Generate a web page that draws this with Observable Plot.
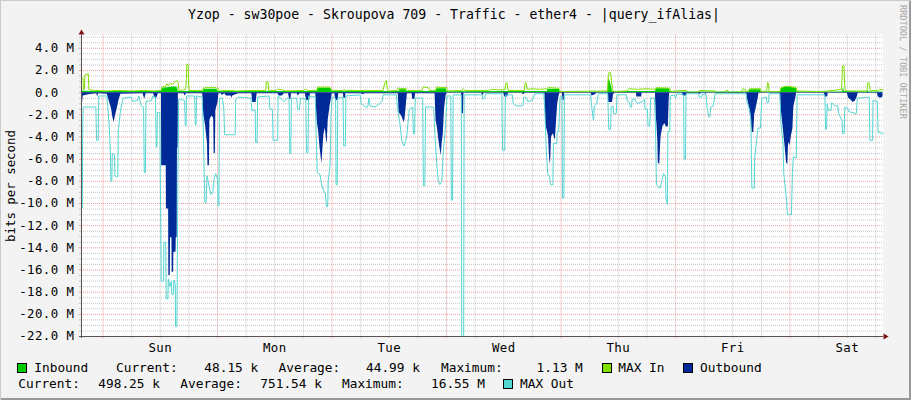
<!DOCTYPE html>
<html><head><meta charset="utf-8">
<script src="https://cdn.jsdelivr.net/npm/d3@7"></script>
<script src="https://cdn.jsdelivr.net/npm/@observablehq/plot@0.6"></script>
<style>
html,body{margin:0;padding:0;background:#f3f3f3;}
#wrap{position:relative;width:911px;height:400px;background:#f3f3f3;overflow:hidden;
  box-shadow: inset 1px 1px 0 #cbcbcb, inset -2px -2px 0 #9a9a9a;
  font-family:"DejaVu Sans Mono",monospace;}
#chart{position:absolute;left:0;top:0;}
#chart svg text{letter-spacing:0.45px;}
.lt{position:absolute;white-space:pre;font-family:"DejaVu Sans Mono",monospace;color:#000;}
.box{position:absolute;width:8px;height:8px;border:1px solid #000;}
.rot{position:absolute;width:0;height:0;transform-origin:0 0;}
.rot > div{position:absolute;white-space:pre;font-family:"DejaVu Sans Mono",monospace;}
</style></head>
<body>
<div id="wrap"><div id="chart"></div></div>
<script>
// ---- data (time in hours from Sunday 00:00, values in Mbit/s) ----
const dayNames = ["Sun","Mon","Tue","Wed","Thu","Fri","Sat"];
const dayCenters = [12,36,60,84,108,132,156];
const title = "Yzop - sw30poe - Skroupova 709 - Traffic - ether4 - |query_ifAlias|";
const yAxisTitle = "bits per second";
const watermark = "RRDTOOL / TOBI OETIKER";
const legendSeries = ["Inbound","MAX In","Outbound","MAX Out"];
const legendColors = ["#00cc00","#80e000","#002a97","#55d6d3"];
const statNames = ["Current:","Average:","Maximum:"];
const inboundStats = ["48.15 k","44.99 k","1.13 M"];
const outboundStats = ["498.25 k","751.54 k","16.55 M"];

const inbound = [
[-4.51,0.15],[-3.0,0.1],[12.2,0.1],[12.4,0.4],[13.5,0.45],[14.5,0.5],[15.5,0.5],[15.8,0.1],[21.0,0.1],[21.2,0.3],[23.8,0.3],[24.2,0.1],
[44.9,0.1],[45.1,0.4],[47.8,0.4],[48.0,0.1],[62.0,0.1],[62.2,0.25],[63.5,0.25],[63.7,0.1],[69.8,0.1],[70.0,0.35],[71.9,0.35],[72.1,0.08],
[93.1,0.1],[93.3,0.3],[95.6,0.3],[95.8,0.05],[105.8,0.05],[105.9,0.8],[106.1,1.3],[106.3,1.0],[106.5,0.7],[106.8,0.1],
[115.8,0.1],[116.0,0.35],[118.7,0.35],[118.9,0.05],[135.4,0.05],[135.6,0.25],[137.8,0.25],[138.0,0.05],
[142.0,0.05],[142.2,0.4],[143.3,0.5],[144.5,0.45],[145.3,0.4],[145.5,0.05],[155.0,0.05],[155.2,0.45],[155.4,0.1],
[160.2,0.05],[160.4,0.2],[160.6,0.05],[163.49,0.05]
];

const maxIn = [
[-4.51,1.4],[-4.2,1.3],[-4.1,0.3],[-3.9,0.3],[-3.8,1.6],[-3.1,1.7],[-2.95,0.25],[-1.5,0.2],[0.5,0.15],[3.0,0.2],[6.0,0.15],[8.5,0.2],[10.5,0.15],
[12.2,0.2],[12.5,0.55],[13.0,0.5],[13.4,0.8],[13.7,0.6],[14.1,0.85],[14.6,0.75],[15.3,1.1],[15.7,1.0],[15.9,0.2],
[17.2,0.25],[17.4,0.6],[17.6,2.6],[17.85,2.5],[18.0,0.2],[20.8,0.2],[21.0,0.4],[21.5,0.45],[23.5,0.45],[24.2,0.35],[24.4,0.15],
[26.0,0.2],[28.0,0.15],[31.0,0.2],[34.1,0.2],[34.25,1.0],[34.6,0.95],[34.7,0.2],[36.3,0.2],[36.6,0.3],[37.4,0.3],[38.2,0.15],
[42.1,0.2],[42.4,0.3],[43.1,0.2],[44.8,0.2],[45.0,0.5],[47.5,0.5],[48.0,0.2],[50.3,0.2],[50.5,0.3],[50.8,0.2],
[58.7,0.2],[58.9,0.6],[59.2,1.0],[59.4,1.1],[59.6,0.3],[59.8,0.15],[61.6,0.2],[61.8,0.4],[63.6,0.35],[63.8,0.2],
[66.9,0.2],[67.1,0.5],[68.2,0.45],[68.4,0.2],[69.7,0.2],[69.9,0.5],[72.0,0.45],[72.2,0.15],[75.3,0.2],[75.5,0.35],[76.0,0.2],
[80.8,0.2],[81.5,0.3],[83.0,0.25],[84.2,0.25],[84.5,0.9],[84.7,0.85],[84.9,0.2],[88.3,0.2],[88.5,0.9],[88.7,0.85],[88.9,0.3],
[90.0,0.35],[91.5,0.3],[93.0,0.35],[93.3,0.45],[95.5,0.4],[95.9,0.1],[105.8,0.15],[105.9,1.5],[106.1,1.85],[106.4,1.8],[106.6,1.0],[106.8,0.3],[107.0,0.1],
[109.8,0.15],[110.2,0.35],[112.0,0.3],[114.0,0.35],[115.7,0.3],[116.0,0.45],[118.8,0.4],[119.0,0.1],[121.3,0.2],[122.3,0.2],[122.5,0.0],
[124.8,0.05],[125.0,0.2],[128.3,0.15],[128.5,0.0],[130.4,0.05],[130.6,0.2],[131.0,0.2],[131.2,0.0],[133.9,0.05],[134.1,0.35],[134.6,0.3],[134.8,0.05],
[135.3,0.2],[135.5,0.35],[137.8,0.35],[138.0,0.1],[139.1,0.15],[139.3,0.9],[139.5,0.85],[139.6,0.1],[141.9,0.1],[142.1,0.45],[143.3,0.6],[144.0,0.55],[145.3,0.45],[145.5,0.15],
[150.0,0.1],[152.0,0.15],[154.8,0.3],[155.0,2.4],[155.3,2.45],[155.5,0.4],[155.7,0.15],[160.1,0.15],[160.3,0.9],[160.6,0.85],[160.8,0.2],[162.5,0.2],[162.7,0.3],[163.49,0.25]
];

const outbound = [
[-4.51,-1.0],[-4.35,-1.2],[-4.15,-0.3],[-3.0,-0.2],[-1.3,-0.1],[-1.15,-0.4],[-0.9,-0.1],[0.9,-0.15],
[1.0,-0.3],[1.4,-0.9],[1.8,-1.5],[2.1,-2.3],[2.35,-2.7],[2.6,-2.1],[3.0,-1.4],[3.4,-0.6],[3.75,-0.15],
[8.4,-0.1],[8.75,-0.6],[9.05,-0.1],[10.6,-0.1],[11.1,-0.7],[11.6,-0.1],
[12.25,-0.1],[12.3,-6.6],[13.25,-6.6],[13.3,-10.5],[13.75,-10.5],[13.8,-16.5],[14.1,-16.5],[14.15,-13.1],[14.45,-13.1],[14.5,-16.2],[14.8,-16.2],[14.85,-14.4],[15.3,-14.4],[15.35,-13.1],[15.55,-13.1],[15.6,-5.0],[15.75,-5.0],[15.8,-0.1],
[17.0,-0.1],[17.2,-0.3],[17.5,-0.1],[20.9,-0.1],
[21.1,-1.9],[21.5,-3.0],[21.9,-4.6],[22.0,-6.6],[22.3,-6.6],[22.4,-2.5],[22.8,-2.1],[23.2,-2.3],[23.3,-5.5],[23.55,-5.5],[23.65,-1.6],[24.1,-0.9],[24.3,-0.1],
[24.8,-0.1],[25.0,-0.25],[25.5,-0.1],[25.9,-0.3],[26.9,-0.3],[27.0,-0.5],[27.2,-0.3],[28.4,-0.1],[31.2,-0.1],[31.4,-0.9],[32.1,-0.9],[32.3,-0.1],[36.7,-0.1],[36.9,-0.3],[37.6,-0.3],[38.0,-0.1],
[38.9,-0.1],[39.1,-0.6],[39.4,-0.6],[39.5,-0.1],[40.7,-0.1],[40.9,-0.3],[41.3,-0.1],[42.4,-0.1],[42.7,-0.7],[43.3,-0.7],[43.5,-0.1],[44.6,-0.1],
[44.7,-1.0],[44.9,-2.6],[45.2,-3.5],[45.5,-5.0],[45.8,-6.1],[45.9,-6.4],[46.1,-5.0],[46.3,-3.8],[46.6,-3.2],[46.9,-4.5],[47.0,-4.5],[47.2,-2.5],[47.6,-1.2],[47.9,-0.5],[48.05,-0.1],
[48.6,-0.1],[48.75,-0.7],[49.3,-0.7],[49.4,-0.1],[50.4,-0.1],[50.5,-0.5],[50.85,-0.5],[50.9,-0.1],[54.2,-0.1],[54.4,-0.2],[55.0,-0.1],[61.9,-0.1],
[62.05,-1.8],[62.4,-2.0],[62.7,-2.2],[63.1,-2.7],[63.3,-2.4],[63.6,-1.0],[63.8,-0.1],[64.8,-0.1],[64.9,-0.6],[65.4,-0.6],[65.5,-0.1],[69.6,-0.1],
[69.8,-2.5],[70.1,-3.2],[70.4,-4.3],[70.7,-5.2],[70.9,-5.7],[71.1,-4.5],[71.3,-3.9],[71.6,-1.4],[71.9,-0.3],[72.1,-0.05],
[75.15,-0.05],[75.25,-1.9],[75.55,-1.9],[75.65,-0.05],[79.4,-0.05],[79.6,-0.3],[79.9,-0.05],[84.0,-0.05],[84.2,-0.4],[84.8,-0.4],[85.0,-0.05],[87.9,-0.05],[88.1,-0.2],[88.6,-0.05],[92.6,-0.05],
[92.8,-2.8],[93.1,-3.4],[93.4,-4.0],[93.55,-5.5],[93.7,-6.45],[93.85,-6.0],[94.0,-4.0],[94.4,-3.7],[94.8,-4.3],[95.0,-3.0],[95.3,-1.0],[95.6,-0.3],[95.8,-0.05],
[96.3,-0.05],[96.4,-0.7],[96.65,-0.7],[96.75,-0.05],[102.3,-0.05],[102.5,-0.3],[103.2,-0.2],[103.5,-0.05],[105.9,-0.05],[106.0,-0.9],[106.8,-0.9],[107.0,-0.2],[107.3,-0.05],[111.8,-0.05],[111.9,-0.4],[112.9,-0.4],[113.0,-0.05],[115.8,-0.05],
[115.95,-2.0],[116.1,-2.8],[116.3,-4.5],[116.4,-6.4],[116.7,-6.45],[116.9,-4.5],[117.0,-3.9],[117.4,-3.0],[117.8,-2.8],[118.1,-3.1],[118.5,-3.1],[118.65,-1.0],[118.75,-0.05],
[121.5,-0.05],[121.6,-0.3],[122.3,-0.3],[122.4,-0.05],[124.9,-0.05],[125.0,-0.2],[125.5,-0.05],[126.3,-0.05],[126.4,-0.2],[126.6,-0.05],[134.9,-0.05],
[135.2,-0.8],[135.5,-1.3],[135.8,-2.2],[136.1,-3.6],[136.4,-3.6],[136.6,-2.0],[137.0,-1.2],[137.3,-0.6],[137.5,-0.05],[141.9,-0.05],
[142.1,-1.3],[142.4,-2.5],[142.7,-3.7],[143.0,-5.0],[143.3,-6.4],[143.55,-6.45],[143.7,-4.5],[144.0,-4.8],[144.3,-3.9],[144.6,-3.3],[144.8,-1.3],[145.1,-0.7],[145.4,-0.05],
[151.2,-0.05],[151.4,-0.4],[151.9,-0.4],[152.0,-0.05],[156.0,-0.05],[156.3,-0.5],[156.9,-0.7],[157.2,-0.9],[157.6,-0.8],[158.0,-0.5],[158.3,-0.05],[162.3,-0.05],[162.5,-0.4],[163.0,-0.5],[163.49,-0.4]
];

const maxOut = [
[-4.51,-10.4],[-4.35,-10.4],[-4.25,-3.1],[-4.15,-1.3],[-1.5,-1.3],[-1.35,-4.3],[-1.0,-4.3],[-0.9,-0.3],[0.8,-0.3],
[0.95,-1.0],[1.3,-3.0],[1.55,-5.5],[1.65,-8.0],[1.85,-8.0],[1.95,-5.5],[2.4,-5.6],[2.5,-7.5],[3.1,-7.6],[3.2,-3.4],[3.6,-1.9],[3.8,-1.3],[4.2,-0.5],
[5.9,-0.4],[6.2,-0.8],[7.2,-0.7],[7.5,-0.3],[8.0,-1.2],[8.5,-1.3],[8.65,-7.2],[8.9,-7.2],[9.0,-0.8],[10.2,-0.7],[10.4,-0.3],[11.0,-0.4],[11.15,-4.9],[11.3,-4.9],[11.4,-1.8],[11.9,-1.8],
[12.2,-17.0],[12.7,-17.0],[12.75,-13.5],[13.15,-13.5],[13.25,-18.6],[13.6,-18.6],[13.7,-16.8],[14.0,-17.5],[14.35,-17.0],[14.4,-18.2],[14.75,-18.2],[14.85,-16.9],[15.15,-17.3],[15.2,-21.1],[15.5,-21.1],[15.6,-13.1],[15.75,-5.0],[15.85,-0.6],
[17.1,-0.7],[17.25,-3.0],[17.4,-3.0],[17.5,-0.3],[19.2,-0.3],[19.35,-2.9],[19.5,-2.9],[19.6,-0.3],[20.8,-0.4],
[21.0,-3.0],[21.2,-7.0],[21.35,-9.9],[21.6,-9.9],[21.8,-7.5],[22.3,-8.6],[22.6,-9.2],[23.0,-9.0],[23.3,-7.8],[23.6,-7.3],[24.0,-7.8],[24.1,-10.2],[24.3,-10.2],[24.4,-0.5],
[25.0,-0.5],[25.3,-1.3],[25.5,-3.8],[27.7,-3.8],[27.8,-0.6],[28.5,-0.4],[31.0,-0.5],[31.2,-1.6],[31.9,-1.6],[32.0,-4.5],[32.3,-4.5],[32.4,-0.4],[34.8,-0.3],[35.0,-1.5],[35.5,-1.5],[35.65,-4.3],[36.6,-4.3],[36.7,-0.3],
[38.0,-0.8],[38.6,-0.5],[39.0,-0.6],[39.15,-5.5],[39.35,-5.5],[39.5,-0.5],[40.6,-0.5],[40.8,-1.5],[41.2,-1.5],[41.4,-0.5],[42.5,-0.6],[42.65,-5.4],[42.95,-5.4],[43.1,-0.3],[44.5,-0.4],
[44.7,-4.0],[44.9,-7.2],[45.5,-7.4],[45.8,-8.3],[46.2,-8.8],[46.6,-9.1],[46.85,-10.3],[47.1,-10.3],[47.2,-8.0],[47.6,-6.5],[47.8,-2.0],[48.0,-0.4],
[48.75,-0.5],[48.85,-8.3],[49.1,-8.3],[49.2,-0.5],[50.3,-0.4],[50.45,-4.8],[50.8,-4.8],[50.9,-0.3],[53.9,-0.2],[54.1,-1.0],[55.0,-1.3],[55.5,-1.3],[55.7,-0.5],[56.0,-1.2],[57.0,-1.3],[58.5,-0.8],[58.7,-0.2],[61.5,-0.2],
[61.7,-1.3],[62.3,-3.0],[62.6,-4.3],[62.8,-4.5],[63.1,-4.8],[63.4,-4.4],[63.7,-3.8],[64.2,-1.5],[64.9,-1.3],[65.05,-3.7],[65.3,-3.7],[65.45,-0.5],[67.0,-0.5],[67.15,-8.4],[67.45,-8.4],[67.6,-1.3],[69.3,-1.3],
[69.6,-4.0],[70.0,-6.7],[70.3,-8.0],[70.6,-8.3],[71.0,-8.0],[71.3,-5.5],[71.8,-3.0],[72.1,-0.3],[72.9,-0.3],[73.0,-9.7],[73.25,-9.7],[73.4,-0.2],[75.1,-0.2],[75.2,-22.0],[75.6,-22.0],[75.7,-0.2],
[79.5,-0.2],[79.6,-0.6],[80.0,-0.5],[80.2,-0.1],[83.6,-0.1],[83.75,-5.2],[84.2,-5.2],[84.35,-0.2],[85.8,-0.2],[86.0,-1.0],[86.6,-1.2],[88.0,-1.2],[88.2,-0.4],[88.8,-0.5],[89.0,-0.8],[90.0,-0.7],[90.5,-0.1],[92.4,-0.1],
[92.6,-1.5],[92.9,-5.0],[93.2,-7.3],[93.6,-7.6],[93.8,-8.3],[94.3,-8.3],[94.4,-4.6],[95.1,-4.6],[95.2,-3.5],[95.5,-3.5],[95.8,-0.4],[96.2,-0.3],[96.3,-9.5],[96.6,-9.5],[96.7,-0.2],
[102.2,-0.2],[102.5,-1.5],[102.8,-2.5],[103.0,-1.2],[103.5,-1.0],[103.8,-0.1],[105.8,-0.1],[106.0,-3.3],[106.4,-3.3],[106.5,-1.3],[106.9,-1.2],[107.0,-1.9],[107.6,-1.9],[107.7,-0.2],
[109.7,-0.2],[109.9,-0.8],[110.4,-0.9],[110.5,-1.3],[110.8,-1.3],[110.9,-0.6],[111.5,-0.6],[112.0,-1.0],[113.0,-0.8],[113.5,-0.6],[113.6,-1.5],[114.1,-1.5],[114.25,-3.0],[114.6,-3.0],[114.8,-0.5],[115.6,-0.5],
[115.8,-3.0],[116.0,-8.3],[116.3,-8.5],[116.8,-8.6],[117.1,-8.0],[117.5,-7.3],[117.9,-7.6],[118.0,-9.5],[118.3,-10.1],[118.4,-3.5],[118.8,-3.5],[118.9,-0.3],[119.8,-0.2],[120.0,-0.5],[120.3,-0.1],
[121.7,-0.2],[121.8,-6.0],[122.1,-6.0],[122.2,-0.1],[124.8,-0.1],[125.0,-0.4],[125.5,-0.4],[125.6,-0.1],[126.4,-0.2],[126.6,-1.3],[127.0,-2.2],[127.2,-2.2],[127.4,-1.3],[127.9,-1.2],[128.3,-0.1],
[134.8,-0.1],[135.0,-0.9],[135.5,-1.5],[135.8,-2.5],[136.0,-8.6],[136.5,-8.6],[136.6,-5.8],[137.0,-4.3],[137.3,-3.2],[137.8,-3.2],[138.1,-0.5],[139.0,-0.4],[139.2,-0.9],[139.5,-0.9],[139.6,-0.1],
[141.9,-0.1],[142.1,-2.8],[142.5,-4.3],[142.7,-7.3],[143.0,-8.6],[143.3,-9.8],[143.45,-11.0],[144.3,-11.0],[144.5,-7.3],[144.7,-5.8],[145.3,-5.9],[145.5,-0.2],
[151.3,-0.2],[151.45,-3.3],[151.65,-3.3],[151.8,-1.0],[152.0,-1.6],[152.6,-1.6],[152.7,-0.9],[153.4,-1.2],[154.0,-1.2],[154.2,-1.9],[154.9,-2.5],[155.05,-3.7],[155.35,-3.7],[155.5,-1.3],[156.1,-1.4],[156.3,-1.7],[157.9,-1.9],[158.1,-0.5],[160.6,-0.4],[160.75,-4.3],[161.3,-4.3],[161.4,-0.7],[162.3,-0.8],[162.45,-3.6],[162.8,-3.6],[163.49,-3.7]
];

// ---- scales / grid definitions ----
const X0 = -4.51, X1 = 163.49, Y0 = -22, Y1 = 5.2;
const yMajor = d3.range(-22, 4.01, 2);
const yMinor = d3.range(-22, 5.01, 0.5).filter(v => Math.abs(v % 2) > 1e-9);
const xMajor = d3.range(0, 163, 24);
const xMinor = d3.range(6, 163, 6).filter(v => v % 24 !== 0);
const minorC = "#c4c4c4", majorC = "#ee9a9a", axisC = "#5a5252", arrowC = "#7f1414";
const fmtY = v => v === 0 ? "0.0\u00a0\u00a0" : `${v.toFixed(1)} M`;
const T = d => d[0], V = d => d[1];

const chart = Plot.plot({
  width: 911, height: 400,
  marginLeft: 81, marginRight: 28.5, marginTop: 34.5, marginBottom: 64,
  x: {domain: [X0, X1], axis: null},
  y: {domain: [Y0, Y1], axis: null},
  style: {background: "transparent", fontFamily: "'DejaVu Sans Mono', monospace", fontSize: "12.4px", color: "#000"},
  marks: [
    Plot.frame({fill: "#ffffff", stroke: null}),
    Plot.gridY(yMinor, {stroke: minorC, strokeOpacity: 1, strokeDasharray: "1,1"}),
    Plot.gridX(xMinor, {stroke: minorC, strokeOpacity: 1, strokeDasharray: "1,1"}),
    Plot.gridY(yMajor, {stroke: majorC, strokeOpacity: 1, strokeDasharray: "1,1"}),
    Plot.gridX(xMajor, {stroke: majorC, strokeOpacity: 1, strokeDasharray: "1,1"}),
    Plot.areaY(inbound, {x: T, y: V, fill: "#00cc00", curve: "linear"}),
    Plot.lineY(maxIn, {x: T, y: V, stroke: "#80e000", strokeWidth: 1, curve: "linear"}),
    Plot.areaY(outbound, {x: T, y: V, fill: "#002a97", curve: "linear"}),
    Plot.lineY(maxOut, {x: T, y: V, stroke: "#55d6d3", strokeWidth: 1, curve: "linear"}),
    Plot.axisY(yMinor, {tickSize: 2, stroke: minorC, tickFormat: () => ""}),
    Plot.axisY(yMajor, {tickSize: 2, stroke: majorC, tickPadding: 5, tickFormat: fmtY, fill: "#000"}),
    Plot.axisX(xMinor, {tickSize: 2, stroke: minorC, tickFormat: () => ""}),
    Plot.axisX(xMajor, {tickSize: 2, stroke: majorC, tickFormat: () => ""}),
    Plot.axisX(dayCenters, {tickSize: 0, tickPadding: 6.5, tickFormat: d => dayNames[dayCenters.indexOf(d)], fill: "#000"}),
    Plot.ruleX([X0], {stroke: axisC, insetBottom: -2}),
    Plot.ruleY([Y0], {stroke: axisC, insetLeft: -2, insetRight: -0.5}),
    Plot.dot([[X0, Y1]], {x: T, y: V, symbol: "triangle", r: 2.2, fill: arrowC, stroke: null, dy: -2.2}),
    Plot.dot([[X1, Y0]], {x: T, y: V, symbol: "triangle", r: 2.2, fill: arrowC, stroke: null, rotate: 90, dx: 2.2})
  ]
});
document.getElementById("chart").appendChild(chart);

// ---- title, axis title, watermark, legend ----
const wrap = document.getElementById("wrap");
function addText(x, baseline, txt, size, extra) {
  const d = document.createElement("div");
  d.className = "lt";
  d.style.left = x + "px";
  d.style.top = (baseline - 0.846 * size) + "px";
  d.style.fontSize = size + "px";
  d.style.lineHeight = size + "px";
  d.textContent = txt;
  if (extra) Object.assign(d.style, extra);
  wrap.appendChild(d);
  return d;
}
function addBox(x, y, color) {
  const b = document.createElement("div");
  b.className = "box";
  b.style.left = x + "px"; b.style.top = y + "px"; b.style.background = color;
  wrap.appendChild(b);
}
function addRotated(x, y, deg, txt, size, color, center) {
  const o = document.createElement("div");
  o.className = "rot";
  o.style.left = x + "px"; o.style.top = y + "px";
  o.style.transform = `rotate(${deg}deg)`;
  const i = document.createElement("div");
  i.style.fontSize = size + "px"; i.style.lineHeight = size + "px";
  i.style.top = (-0.846 * size) + "px";
  i.style.color = color;
  if (center) { i.style.left = "-200px"; i.style.width = "400px"; i.style.textAlign = "center"; }
  else { i.style.left = "0px"; }
  i.textContent = txt;
  o.appendChild(i);
  wrap.appendChild(o);
}

addText(0, 19.5, title, 13.2, {width: "908px", textAlign: "center"});
addRotated(14.5, 186, -90, yAxisTitle, 12.4, "#000", true);
addRotated(899.5, 5, 90, watermark, 8.6, "#a8a8a8", false);

const L1 = 372.5, L2 = 389, FS = 12.8;
addBox(17, 363, legendColors[0]);
addText(34.3, L1, legendSeries[0], FS);
[116, 278.6, 441].forEach((x, i) => addText(x, L1, statNames[i], FS));
[204.3, 366, 536.6].forEach((x, i) => addText(x, L1, inboundStats[i], FS));
addBox(601.5, 363, legendColors[1]);
addText(618.3, L1, legendSeries[1], FS);
addBox(683, 363, legendColors[2]);
addText(700, L1, legendSeries[2], FS);
[18.3, 180.3, 342].forEach((x, i) => addText(x, L2, statNames[i], FS));
[98.3, 260.3, 431].forEach((x, i) => addText(x, L2, outboundStats[i], FS));
addBox(503, 379, legendColors[3]);
addText(520, L2, legendSeries[3], FS);
</script>
</body></html>
